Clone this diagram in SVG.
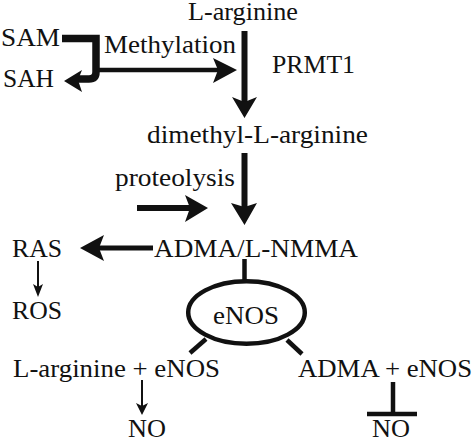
<svg xmlns="http://www.w3.org/2000/svg" width="474" height="440" viewBox="0 0 474 440">
<style>
.thick{stroke:#111;fill:none}
.head{fill:#111;stroke:none}
</style>
<rect width="474" height="440" fill="#fff"/>
<g id="connectors">
  <path class="thick" d="M62,38.5 H96 V72 Q96,79 89,79 H78" stroke-width="7.5"/>
  <polygon class="head" points="64,81 82,70 78,80 82,92"/>
  <line class="thick" x1="99" y1="70" x2="218" y2="70" stroke-width="4.5"/>
  <polygon class="head" points="237,70 213,58 218,70 213,83"/>
  <line class="thick" x1="244.5" y1="31" x2="244.5" y2="102" stroke-width="6"/>
  <polygon class="head" points="244.5,118 232,97 244.5,102 257,97"/>
  <line class="thick" x1="244.5" y1="153" x2="244.5" y2="207" stroke-width="6"/>
  <polygon class="head" points="244.5,225 231,203 244.5,207 257,203"/>
  <line class="thick" x1="137" y1="208" x2="190" y2="208" stroke-width="6"/>
  <polygon class="head" points="208,208 185,195 190,208 185,222"/>
  <line class="thick" x1="153" y1="248" x2="98" y2="248" stroke-width="5"/>
  <polygon class="head" points="80,248 104,235 99,248 104,261"/>
  <line class="thick" x1="38" y1="261" x2="38" y2="288" stroke-width="2"/>
  <polygon class="head" points="38,297 33,284 38,287 43,284"/>
  <line class="thick" x1="244.5" y1="259" x2="244.5" y2="282" stroke-width="4.5"/>
  <line class="thick" x1="206" y1="339" x2="190" y2="353" stroke-width="4.5"/>
  <line class="thick" x1="287" y1="340" x2="302" y2="354" stroke-width="4.5"/>
  <line class="thick" x1="142" y1="380" x2="142" y2="407" stroke-width="2"/>
  <polygon class="head" points="142,415 136,403 142,406 148,403"/>
  <line class="thick" x1="393" y1="382" x2="393" y2="414" stroke-width="4.5"/>
  <line class="thick" x1="367" y1="414" x2="417" y2="414" stroke-width="4.5"/>
</g>
<g font-family="Liberation Serif, Times New Roman, serif" font-size="26" fill="#111">
<g id="l-arginine"><text x="188" y="20" textLength="110" lengthAdjust="spacingAndGlyphs">L-arginine</text></g>
<g id="sam"><text x="1" y="46" textLength="59" lengthAdjust="spacingAndGlyphs">SAM</text></g>
<g id="methylation"><text x="104" y="53" textLength="132" lengthAdjust="spacingAndGlyphs">Methylation</text></g>
<g id="sah"><text x="3" y="87" textLength="51" lengthAdjust="spacingAndGlyphs">SAH</text></g>
<g id="prmt1"><text x="272" y="73" textLength="83" lengthAdjust="spacingAndGlyphs">PRMT1</text></g>
<g id="dimethyl"><text x="147" y="143" textLength="221" lengthAdjust="spacingAndGlyphs">dimethyl-L-arginine</text></g>
<g id="proteolysis"><text x="115" y="186" textLength="120" lengthAdjust="spacingAndGlyphs">proteolysis</text></g>
<g id="adma-lnmma"><text x="154" y="257" textLength="204" lengthAdjust="spacingAndGlyphs">ADMA/L-NMMA</text></g>
<g id="ras"><text x="12" y="257" textLength="50" lengthAdjust="spacingAndGlyphs">RAS</text></g>
<g id="ros"><text x="12" y="319" textLength="50" lengthAdjust="spacingAndGlyphs">ROS</text></g>
<g id="enos">
  <ellipse cx="246.5" cy="312.5" rx="58.3" ry="31.3" fill="none" stroke="#111" stroke-width="4.5"/>
  <text x="213" y="324" textLength="66" lengthAdjust="spacingAndGlyphs">eNOS</text>
</g>
<g id="larg-enos"><text x="13" y="377" textLength="207" lengthAdjust="spacingAndGlyphs">L-arginine + eNOS</text></g>
<g id="adma-enos"><text x="298" y="377" textLength="174" lengthAdjust="spacingAndGlyphs">ADMA + eNOS</text></g>
<g id="no-left"><text x="128" y="437" textLength="38" lengthAdjust="spacingAndGlyphs">NO</text></g>
<g id="no-right"><text x="372" y="437" textLength="38" lengthAdjust="spacingAndGlyphs">NO</text></g>
</g>
</svg>
